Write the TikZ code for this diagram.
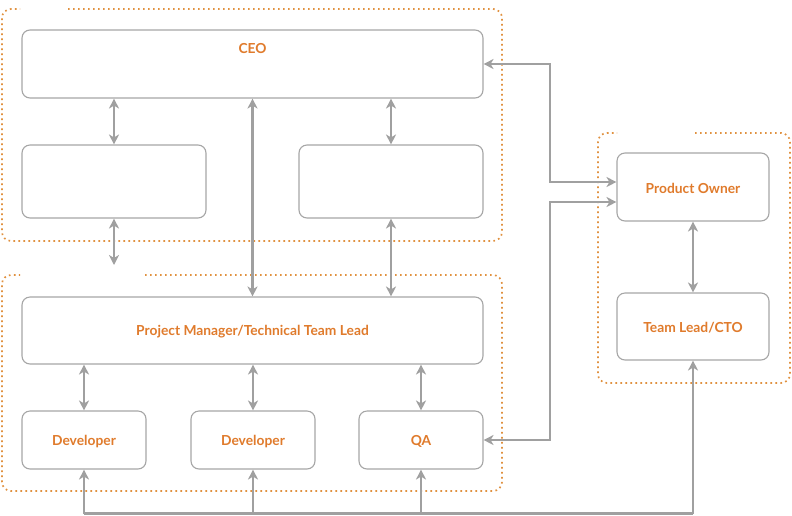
\documentclass[tikz,border=0pt]{standalone}
\usepackage{fontspec}
\setmainfont{Lato}
\usetikzlibrary{arrows.meta}
\definecolor{org}{HTML}{E07B2C}
\definecolor{dotc}{HTML}{E0913F}
\definecolor{gr}{HTML}{A0A0A0}
\definecolor{bd}{HTML}{A6A6A6}
\begin{document}
\begin{tikzpicture}[x=1pt,y=-1pt,
 box/.style={draw=bd, line width=1.1pt, rounded corners=8pt, fill=white, inner sep=0pt},
 lbl/.style={text=org, font=\bfseries\fontsize{13.8}{16}\selectfont, yshift=-1.5pt},
 arr/.style={draw=gr, line width=2.2pt, {Stealth[length=10pt,width=10pt,inset=3pt]}-{Stealth[length=10pt,width=10pt,inset=3pt]}},
 arrone/.style={draw=gr, line width=2.2pt, -{Stealth[length=10pt,width=10pt,inset=3pt]}},
 plain/.style={draw=gr, line width=2.2pt},
 cont/.style={draw=dotc, line width=1.7pt, dash pattern=on 1.7pt off 3.3pt, rounded corners=9pt}]
\useasboundingbox (0,0) rectangle (792,515);

% containers
\draw[cont] (68,9) -- (502,9) -- (502,241) -- (2,241) -- (2,9) -- (20,9);
\draw[cont] (145,275) -- (502,275) -- (502,491) -- (2,491) -- (2,275) -- (20,275);
\draw[cont] (695,133) -- (790,133) -- (790,383) -- (598,383) -- (598,133) -- (617,133);

% boxes
\node[box, minimum width=461pt, minimum height=68pt] (ceo) at (252.5,64) {};
\node[lbl] (ceot) at (252.5,47) {CEO};
\node[box, minimum width=184pt, minimum height=73pt] (b2) at (114,181.5) {};
\node[box, minimum width=184pt, minimum height=73pt] (b3) at (391,181.5) {};
\node[box, minimum width=461pt, minimum height=67pt] (pm) at (252.5,330.5) {};
\node[lbl] (pmt) at (pm) {Project Manager/Technical Team Lead};
\node[box, minimum width=124pt, minimum height=58pt] (d1) at (84,440) {};
\node[lbl] (d1t) at (d1) {Developer};
\node[box, minimum width=124pt, minimum height=58pt] (d2) at (253,440) {};
\node[lbl] (d2t) at (d2) {Developer};
\node[box, minimum width=124pt, minimum height=58pt] (qa) at (421,440) {};
\node[lbl] (qat) at (qa) {QA};
\node[box, minimum width=152pt, minimum height=68pt] (po) at (693,187) {};
\node[lbl] (pot) at (po) {Product Owner};
\node[box, minimum width=152pt, minimum height=67pt] (tl) at (693,326.5) {};
\node[lbl] (tlt) at (tl) {Team Lead/CTO};

% vertical links
\draw[arr] (ceo.south -| b2.north) -- (b2.north);
\draw[arr] (ceo.south -| b3.north) -- (b3.north);
\draw[arr] (ceo.south) -- (pm.north);
\coordinate (b2end) at (114,265);
\draw[arr] (b2.south) -- (b2end);
\draw[arr] (b3.south) -- (b3.south |- pm.north);
\draw[arr] (pm.south -| d1.north) -- (d1.north);
\draw[arr] (pm.south -| d2.north) -- (d2.north);
\draw[arr] (pm.south -| qa.north) -- (qa.north);
\draw[arr] (po.south) -- (tl.north);

% right links
\coordinate (poa) at (po.west |- 550,182);
\coordinate (pob) at (po.west |- 550,202);
\draw[arr] (ceo.east) -- (550,64) -- (550,182) -- (poa);
\draw[arr] (qa.east) -- (550,440) -- (550,202) -- (pob);

% bottom bus
\coordinate (busl) at (84,513.5);
\coordinate (busr) at (693,513.5);
\draw[plain] (busl) -- (busr);
\draw[arrone] (busl) -- (d1.south);
\draw[arrone] (d2.south |- busl) -- (d2.south);
\draw[arrone] (qa.south |- busl) -- (qa.south);
\draw[arrone] (busr) -- (tl.south);
\end{tikzpicture}
\end{document}
